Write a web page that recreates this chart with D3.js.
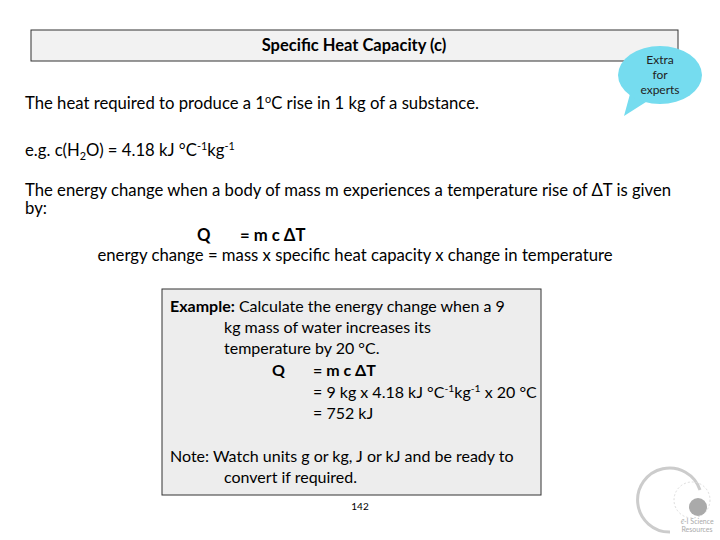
<!DOCTYPE html><html><head><meta charset="utf-8">
<script src="https://cdn.jsdelivr.net/npm/d3@7"></script>
<style>body{margin:0;background:#fff}svg{display:block;font-family:Lato,'Open Sans',sans-serif}</style></head><body>
<script>
const title = "Specific Heat Capacity (c)";
const bubbleLines = ["Extra","for","experts"];
const mainLines = [
 {x:25,y:109,seg:[["The heat required to produce a 1","n"],["o","sup"],["C rise in 1 kg of a substance.","n"]]},
 {x:25,y:156,seg:[["e.g. c(H","n"],["2","sub"],["O) = 4.18 kJ °C","n"],["-1","sup"],["kg","n"],["-1","sup"]]},
 {x:25,y:196,seg:[["The energy change when a body of mass m experiences a temperature rise of ΔT is given","n"]]},
 {x:25,y:214,seg:[["by:","n"]]},
 {x:197,y:241,seg:[["Q","b"]]},
 {x:240,y:241,seg:[["= m c ΔT","b"]]},
 {x:355,y:261,anchor:"middle",seg:[["energy change = mass x specific heat capacity x change in temperature","n"]]}
];
const exampleLines = [
 {x:170,y:312,seg:[["Example:","b"],[" Calculate the energy change when a 9","n"]]},
 {x:224,y:333,seg:[["kg mass of water increases its","n"]]},
 {x:224,y:354,seg:[["temperature by 20 °C.","n"]]},
 {x:272,y:376,seg:[["Q","b"]]},
 {x:313,y:376,seg:[["= m c ΔT","b"]]},
 {x:313,y:398,seg:[["= 9 kg x 4.18 kJ °C","n"],["-1","sup"],["kg","n"],["-1","sup"],[" x 20 °C","n"]]},
 {x:313,y:419,seg:[["= 752 kJ","n"]]},
 {x:170,y:462,seg:[["Note: Watch units g or kg, J or kJ and be ready to","n"]]},
 {x:224,y:483,seg:[["convert if required.","n"]]}
];
const pageNum = "142";

const svg=d3.select("body").append("svg").attr("width",720).attr("height",540);
svg.append("rect").attr("x",31).attr("y",30).attr("width",647).attr("height",31).attr("fill","#f2f2f2").attr("stroke","#333").attr("stroke-width",1);
svg.append("text").attr("x",354).attr("y",51).attr("text-anchor","middle").attr("font-size",16.5).attr("font-weight","bold").attr("fill","#000").text(title);
svg.append("path").attr("d","M630,94 L624,116 L646,102 Z").attr("fill","#75dcef");
svg.append("ellipse").attr("cx",660).attr("cy",75).attr("rx",42).attr("ry",29).attr("fill","#75dcef");
bubbleLines.forEach((t,i)=>svg.append("text").attr("x",660).attr("y",64+i*15).attr("text-anchor","middle").attr("font-size",12).attr("fill","#222").text(t));
svg.append("rect").attr("x",162).attr("y",289).attr("width",379).attr("height",206).attr("fill","#ededed").attr("stroke","#333");
function draw(lines,fs){
 lines.forEach(l=>{
  const t=svg.append("text").attr("x",l.x).attr("y",l.y).attr("font-size",fs).attr("fill","#000").attr("text-anchor",l.anchor||"start");
  l.seg.forEach(([s,st])=>{
   const sp=t.append("tspan").text(s);
   if(st==="b")sp.attr("font-weight","bold");
   if(st==="sup")sp.attr("font-size",fs*0.65).attr("dy",-6);
   if(st==="sub")sp.attr("font-size",fs*0.65).attr("dy",4);
  });
  let prev=0;
  t.selectAll("tspan").each(function(){
    const el=d3.select(this); const d=+el.attr("dy")||0;
    el.attr("dy", d-prev); prev=d;
  });
 });
}
draw(mainLines,16.7);
draw(exampleLines,16);
svg.append("text").attr("x",360).attr("y",510).attr("text-anchor","middle").attr("font-size",10).text(pageNum);
svg.append("path").attr("d","M700,490 A32,32 0 1 0 670,532").attr("fill","none").attr("stroke","#ccc").attr("stroke-width",3);
svg.append("circle").attr("cx",692).attr("cy",500).attr("r",18).attr("fill","none").attr("stroke","#ddd").attr("stroke-dasharray","2,2");
svg.append("circle").attr("cx",698).attr("cy",507).attr("r",9).attr("fill","#aaa");
svg.append("text").attr("x",697).attr("y",524).attr("text-anchor","middle").attr("font-size",7).attr("fill","#aaa").text("ℓ-I Science");
svg.append("text").attr("x",697).attr("y",532).attr("text-anchor","middle").attr("font-size",7).attr("fill","#aaa").text("Resources");
</script></body></html>
